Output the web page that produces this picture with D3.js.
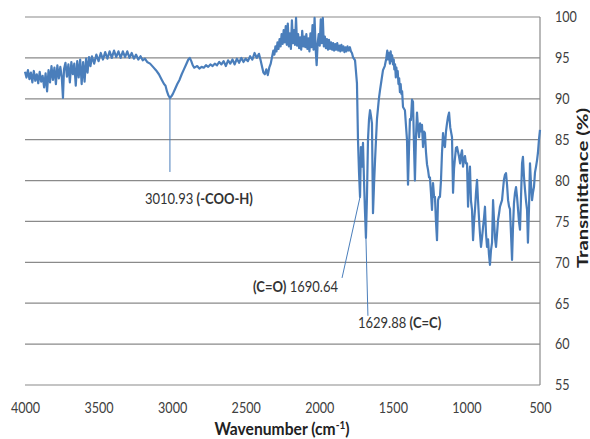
<!DOCTYPE html>
<html>
<head>
<meta charset="utf-8">
<script src="https://cdn.jsdelivr.net/npm/d3@7"></script>
<style>
  body { margin: 0; background: #fff; }
  svg { display: block; }
</style>
</head>
<body>
<div id="chart"></div>
<script>
// FTIR spectrum, [wavenumber, transmittance %]
const spectrum = [
  [4000, 93.3], [3990, 92.6], [3980, 93.5], [3970, 92.4], [3960, 93.2], [3950, 92.0],
  [3940, 93.4], [3930, 92.2], [3920, 93.0], [3910, 91.9], [3900, 93.3], [3890, 92.1],
  [3880, 92.8], [3870, 91.4], [3860, 93.1], [3850, 90.9], [3840, 93.5], [3830, 92.0],
  [3820, 94.0], [3810, 92.3], [3800, 93.8], [3790, 91.8], [3780, 94.1], [3770, 92.5],
  [3760, 93.9], [3750, 92.6], [3742, 90.1], [3735, 93.6], [3725, 94.4], [3715, 92.7],
  [3705, 94.2], [3695, 92.0], [3685, 94.5], [3675, 93.0], [3665, 94.3], [3655, 91.6],
  [3645, 94.6], [3635, 92.6], [3625, 94.8], [3615, 91.8], [3605, 94.5], [3595, 92.1],
  [3585, 94.9], [3575, 93.2], [3565, 95.1], [3555, 94.0], [3545, 95.2], [3530, 94.3],
  [3515, 95.4], [3500, 94.6], [3485, 95.6], [3470, 94.8], [3455, 95.7], [3440, 94.9],
  [3425, 95.8], [3410, 95.0], [3395, 95.9], [3380, 95.1], [3365, 95.8], [3350, 95.0],
  [3335, 95.8], [3320, 95.1], [3305, 95.8], [3290, 95.0], [3275, 95.6], [3260, 94.9],
  [3245, 95.4], [3230, 94.8], [3215, 95.2], [3200, 94.7], [3185, 94.9], [3170, 94.5],
  [3150, 94.3], [3130, 93.9], [3110, 93.5], [3090, 93.0], [3070, 92.3], [3055, 91.8],
  [3045, 91.6], [3035, 90.9], [3025, 90.4], [3015, 90.1], [3005, 90.3], [2995, 90.6],
  [2980, 91.2], [2965, 91.8], [2950, 92.3], [2935, 93.0], [2920, 93.6], [2905, 94.2],
  [2890, 94.8], [2880, 95.0], [2870, 94.6], [2860, 94.1], [2850, 93.8], [2840, 93.9],
  [2830, 94.0], [2815, 93.7], [2800, 93.9], [2785, 93.8], [2770, 94.1], [2755, 93.9],
  [2740, 94.2], [2725, 94.0], [2710, 94.3], [2695, 94.1], [2680, 94.5], [2665, 94.2],
  [2650, 94.6], [2635, 94.0], [2620, 94.7], [2605, 94.3], [2590, 94.8], [2575, 94.2],
  [2560, 94.9], [2545, 94.4], [2530, 95.0], [2515, 94.5], [2500, 94.9], [2485, 94.6],
  [2470, 95.2], [2455, 94.8], [2440, 95.6], [2425, 95.0], [2410, 95.5], [2400, 94.8],
  [2390, 94.0], [2380, 93.2], [2370, 93.0], [2360, 93.6], [2350, 92.9], [2340, 93.8],
  [2330, 94.3], [2320, 95.2], [2312, 95.9], [2305, 95.4], [2298, 96.4], [2291, 95.8],
  [2284, 96.9], [2277, 96.1], [2270, 97.3], [2263, 96.4], [2256, 97.9], [2249, 96.7],
  [2242, 98.4], [2235, 96.9], [2228, 98.9], [2221, 96.6], [2214, 99.2], [2207, 96.4],
  [2200, 98.0], [2193, 96.1], [2186, 99.6], [2179, 96.8], [2172, 98.4], [2165, 96.6],
  [2158, 99.9], [2151, 96.5], [2144, 97.9], [2137, 96.2], [2130, 97.5], [2123, 96.0],
  [2116, 98.3], [2109, 96.4], [2102, 97.6], [2095, 96.3], [2088, 97.9], [2081, 96.1],
  [2074, 97.4], [2067, 95.8], [2060, 98.0], [2053, 96.3], [2046, 99.0], [2039, 96.0],
  [2032, 99.9], [2025, 96.2], [2018, 94.1], [2011, 96.8], [2004, 97.9], [1997, 96.5],
  [1990, 99.7], [1983, 96.8], [1976, 99.9], [1969, 96.4], [1962, 97.6], [1955, 96.2],
  [1948, 97.3], [1941, 96.0], [1934, 97.2], [1927, 96.1], [1920, 96.9], [1913, 96.0],
  [1906, 96.8], [1899, 95.9], [1892, 96.7], [1885, 96.0], [1878, 96.8], [1871, 95.9],
  [1864, 96.5], [1857, 95.8], [1850, 96.6], [1843, 95.9], [1836, 96.4], [1829, 95.7],
  [1822, 96.3], [1815, 95.8], [1808, 96.4], [1800, 95.9], [1792, 96.3], [1785, 95.8],
  [1778, 95.6], [1771, 95.1], [1757, 94.7], [1744, 91.9],
  [1737, 85.0], [1730, 81.0], [1723, 78.0], [1717, 84.1], [1710, 81.7], [1703, 84.6],
  [1696, 80.0], [1690, 76.5], [1683, 73.0], [1676, 78.0], [1669, 85.0], [1662, 87.5],
  [1655, 88.6], [1648, 87.8], [1642, 87.0], [1635, 76.0], [1628, 79.5], [1621, 82.5],
  [1608, 87.5], [1595, 90.0], [1587, 91.1], [1577, 92.3], [1567, 93.5], [1555, 94.0],
  [1545, 94.9], [1538, 95.9], [1533, 94.8], [1527, 95.6], [1520, 94.3], [1515, 95.8],
  [1510, 94.6], [1505, 95.3], [1499, 94.2], [1494, 94.8], [1490, 93.6], [1485, 94.2],
  [1480, 92.6], [1476, 93.8], [1472, 92.8], [1467, 93.4], [1462, 91.8], [1457, 92.5],
  [1452, 90.8], [1447, 91.8], [1442, 90.6], [1437, 90.9], [1431, 89.0],
  [1418, 88.6], [1410, 86.5], [1404, 85.0], [1397, 79.5], [1390, 84.0], [1384, 87.5],
  [1377, 87.4], [1370, 89.9], [1363, 89.6], [1356, 84.0], [1350, 80.0], [1343, 85.3],
  [1336, 88.3], [1329, 86.5], [1322, 85.3], [1315, 87.0], [1308, 86.0], [1302, 86.8],
  [1295, 84.1], [1288, 86.0], [1282, 85.8], [1275, 83.5], [1268, 82.0], [1261, 81.3],
  [1254, 80.4], [1248, 80.4], [1241, 78.5], [1234, 76.4], [1227, 79.7], [1220, 78.0],
  [1214, 78.0], [1207, 75.0], [1200, 72.7], [1193, 77.6], [1186, 78.0], [1180, 78.0],
  [1173, 80.0], [1166, 83.4], [1159, 85.8], [1152, 84.5], [1146, 84.1], [1139, 86.0],
  [1132, 87.0], [1125, 87.8], [1118, 88.3], [1110, 86.5], [1098, 85.3], [1091, 78.5],
  [1084, 81.5], [1078, 82.7], [1071, 84.0], [1064, 84.1], [1057, 83.5], [1050, 82.9],
  [1043, 82.1], [1036, 83.2], [1030, 83.7], [1023, 81.7], [1016, 82.6], [1010, 83.0],
  [1003, 82.1], [996, 82.1], [989, 76.8], [983, 80.0], [976, 81.7], [969, 77.5],
  [962, 76.4], [955, 72.7], [948, 75.0], [942, 76.4], [935, 78.5], [928, 80.1],
  [921, 77.5], [914, 75.2], [908, 73.5], [901, 71.9], [894, 73.0], [887, 74.3],
  [880, 75.5], [874, 76.8], [867, 73.5], [860, 71.9], [853, 72.8], [847, 71.0],
  [840, 69.7], [833, 71.5], [826, 72.4], [819, 77.6], [812, 75.0], [806, 73.0],
  [799, 71.9], [792, 73.5], [785, 75.2], [778, 76.0], [772, 76.8], [765, 77.2],
  [758, 77.6], [751, 79.0], [745, 80.1], [738, 80.7], [731, 80.9], [724, 79.5],
  [717, 77.6], [710, 76.8], [704, 76.5], [697, 73.5], [690, 70.3], [684, 74.0],
  [677, 77.2], [670, 78.5], [663, 79.2], [656, 78.0], [649, 76.4], [643, 75.0],
  [636, 74.0], [629, 78.0], [622, 82.1], [616, 82.9], [609, 80.5], [602, 78.9],
  [595, 77.5], [588, 76.4], [582, 72.4], [575, 76.5], [568, 82.1], [561, 79.5],
  [554, 77.6], [548, 78.5], [541, 79.2], [534, 81.0], [527, 81.7], [520, 82.5],
  [514, 83.4], [507, 85.0], [500, 86.2]
];

const xTicks = [4000, 3500, 3000, 2500, 2000, 1500, 1000, 500];
const yTicks = [55, 60, 65, 70, 75, 80, 85, 90, 95, 100];

// peak labels: [wavenumber, transmittance, normal part, bold part, bold first?]
const peakLabels = [
  [3015, 90.1, "3010.93 ", "(-COO-H)", false],
  [1723, 78.0, " 1690.64", "(C=O)", true],
  [1683, 73.0, "1629.88 ", "(C=C)", false]
];

const width = 590;
const height = 439;
const font = "Lato, 'Open Sans', sans-serif";
const squeeze = 0.84; // the source image text is narrow (Calibri-like)
const lineColor = "#4a7ebb";
const textColor = "#404040";

const svg = d3
  .select("#chart")
  .append("svg")
  .attr("width", width)
  .attr("height", height)
  .style("font-family", font);

const x = d3.scaleLinear().domain([4000, 500]).range([25, 540]);
const y = d3.scaleLinear().domain([55, 100]).range([385, 17]);

// horizontal gridlines
svg
  .append("g")
  .selectAll("line")
  .data(yTicks)
  .enter()
  .append("line")
  .attr("x1", x(4000))
  .attr("x2", x(500))
  .attr("y1", (d) => y(d))
  .attr("y2", (d) => y(d))
  .attr("stroke", "#8a8a8a")
  .attr("stroke-width", 1.2);

// right hand axis line
svg
  .append("line")
  .attr("x1", x(500))
  .attr("x2", x(500))
  .attr("y1", y(100))
  .attr("y2", y(55))
  .attr("stroke", "#8a8a8a")
  .attr("stroke-width", 1.2);

// y axis labels (right)
const yAxis = svg
  .append("g")
  .attr("transform", `translate(${x(500)},0)`)
  .call(d3.axisRight(y).tickValues(yTicks).tickSize(0));
yAxis.select(".domain").remove();
yAxis
  .selectAll("text")
  .attr("x", 0)
  .attr("transform", `translate(15,0) scale(${squeeze},1)`)
  .style("font-family", font)
  .style("font-size", "15px")
  .attr("fill", textColor);

// x axis labels
const xAxis = svg
  .append("g")
  .attr("transform", `translate(0,${y(55)})`)
  .call(
    d3.axisBottom(x).tickValues(xTicks).tickFormat(d3.format("d")).tickSize(0).tickPadding(17)
  );
xAxis.select(".domain").remove();
xAxis
  .selectAll("text")
  .attr("transform", `scale(${squeeze},1)`)
  .style("font-family", font)
  .style("font-size", "15px")
  .attr("fill", textColor);

// spectrum
const line = d3
  .line()
  .x((d) => x(d[0]))
  .y((d) => y(d[1]));

svg
  .append("path")
  .datum(spectrum)
  .attr("d", line)
  .attr("fill", "none")
  .attr("stroke", lineColor)
  .attr("stroke-width", 2.2)
  .attr("stroke-linejoin", "round");

// peak annotations
const labelOffsets = [
  { tx: -25, ty: 106, lx: 0, ly: 74 },
  { tx: -107, ty: 95, lx: -18, ly: 81 },
  { tx: -8, ty: 90, lx: 2, ly: 78 }
];

peakLabels.forEach((p, i) => {
  const px = x(p[0]);
  const py = y(p[1]);
  const o = labelOffsets[i];

  svg
    .append("line")
    .attr("x1", px)
    .attr("y1", py)
    .attr("x2", px + o.lx)
    .attr("y2", py + o.ly)
    .attr("stroke", lineColor)
    .attr("stroke-width", 1);

  const t = svg
    .append("text")
    .attr("transform", `translate(${px + o.tx},${py + o.ty}) scale(${squeeze},1)`)
    .attr("fill", "#333")
    .style("font-size", "15.5px");

  if (p[4]) {
    t.append("tspan").attr("font-weight", "bold").text(p[3]);
    t.append("tspan").text(p[2]);
  } else {
    t.append("tspan").text(p[2]);
    t.append("tspan").attr("font-weight", "bold").text(p[3]);
  }
});

// axis titles
const xTitle = svg
  .append("text")
  .attr("transform", `translate(282,435) scale(0.92,1)`)
  .attr("text-anchor", "middle")
  .attr("font-weight", "bold")
  .attr("fill", "#222")
  .style("font-size", "17px");
xTitle.append("tspan").text("Wavenumber (cm");
xTitle.append("tspan").attr("dy", -6).style("font-size", "11px").text("-1");
xTitle.append("tspan").attr("dy", 6).text(")");

svg
  .append("text")
  .attr("transform", `translate(588,188) rotate(-90) scale(1.36,1)`)
  .attr("text-anchor", "middle")
  .attr("font-weight", "bold")
  .attr("fill", "#222")
  .style("font-size", "15px")
  .text("Transmittance (%)");
</script>
</body>
</html>
